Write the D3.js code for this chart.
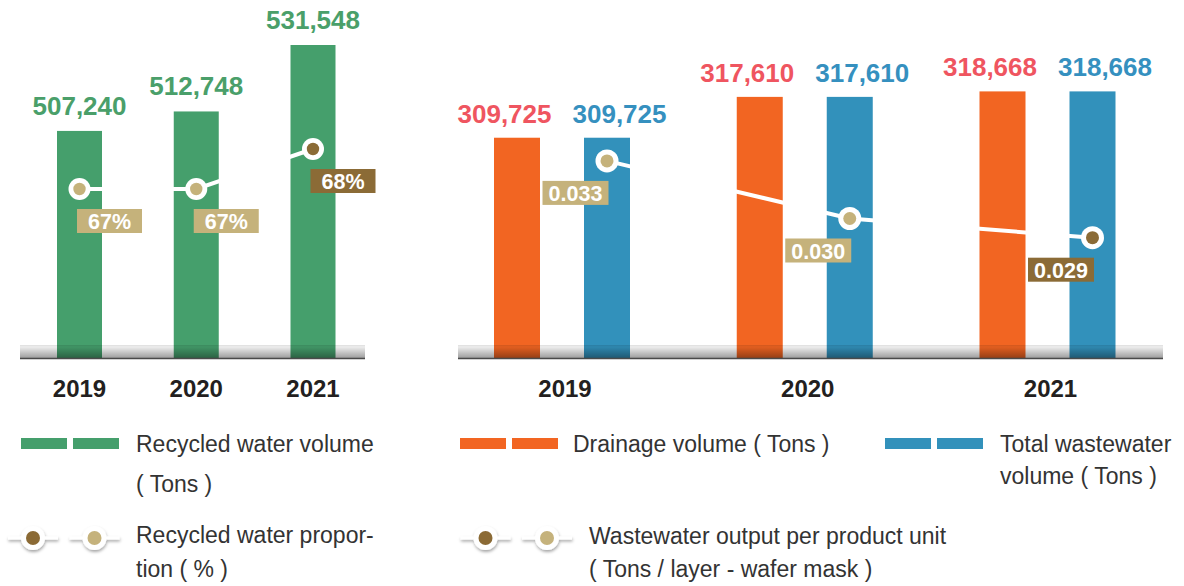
<!DOCTYPE html>
<html>
<head>
<meta charset="utf-8">
<script src="https://cdn.jsdelivr.net/npm/d3@7"></script>
<style>
  html, body { margin: 0; padding: 0; background: #ffffff; }
  svg { display: block; }
  text { font-family: "Liberation Sans", Arial, Helvetica, sans-serif; }
</style>
</head>
<body>
<svg id="chart" width="1184" height="586"></svg>
<script>
// ---- Data ----
const years = ["2019", "2020", "2021"];
const recycledVolume = [507240, 512748, 531548];        // tons
const recycledProportion = [67, 67, 68];                // %
const drainageVolume = [309725, 317610, 318668];        // tons
const totalWastewater = [309725, 317610, 318668];       // tons
const wastewaterPerUnit = [0.033, 0.030, 0.029];        // tons / layer - wafer mask

// ---- Styles ----
const GREEN = "#459f6c", GREEN_TEXT = "#4a9f6a";
const ORANGE = "#f26522", ORANGE_TEXT = "#ef5560";
const BLUE = "#3291bb", BLUE_TEXT = "#3590bf";
const TAN = "#c5b27b", BROWN = "#8b6b36";
const TEXT = "#231f20", LEGEND_TEXT = "#333333";

const svg = d3.select("#chart");
const baseY = 358;

const defs = svg.append("defs");
const grad = defs.append("linearGradient").attr("id", "baseShade")
  .attr("x1", 0).attr("y1", 0).attr("x2", 0).attr("y2", 1);
grad.append("stop").attr("offset", "0%").attr("stop-color", "#000").attr("stop-opacity", 0.13);
grad.append("stop").attr("offset", "15%").attr("stop-color", "#000").attr("stop-opacity", 0.07);
grad.append("stop").attr("offset", "100%").attr("stop-color", "#000").attr("stop-opacity", 0.38);

const shadow = defs.append("filter").attr("id", "iconShadow")
  .attr("x", "-50%").attr("y", "-50%").attr("width", "200%").attr("height", "200%");
shadow.append("feDropShadow").attr("dx", 0.5).attr("dy", 2).attr("stdDeviation", 1.4)
  .attr("flood-color", "#000").attr("flood-opacity", 0.35);

const pointColor = i => (i === years.length - 1 ? BROWN : TAN);

function baseBand(x0, x1) {
  svg.append("rect").attr("x", x0).attr("y", baseY - 13)
    .attr("width", x1 - x0).attr("height", 13).attr("fill", "url(#baseShade)");
  svg.append("line").attr("x1", x0).attr("x2", x1)
    .attr("y1", baseY + 0.5).attr("y2", baseY + 0.5)
    .attr("stroke", "#4a4a4a").attr("stroke-width", 1.6);
}

function marker(g, cx, cy, color, r, rIn) {
  g.append("circle").attr("cx", cx).attr("cy", cy).attr("r", r).attr("fill", "#fff");
  g.append("circle").attr("cx", cx).attr("cy", cy).attr("r", rIn).attr("fill", color);
}

function valueBox(g, x, y, w, color, label) {
  g.append("rect").attr("x", x).attr("y", y).attr("width", w).attr("height", 24).attr("fill", color);
  g.append("text").attr("x", x + w / 2).attr("y", y + 20)
    .attr("text-anchor", "middle").attr("fill", "#fff")
    .attr("font-size", 21.5).attr("font-weight", 700).text(label);
}

// ================= Left chart: recycled water =================
const xL = d3.scalePoint().domain(years).range([79.5, 313]);
const yL = d3.scaleLinear().domain([443000, 531548]).range([baseY, 45]);
const yProp = d3.scaleLinear().domain([67, 68]).range([189, 149]);
const barW = 45;

const left = svg.append("g");
left.selectAll("rect.bar").data(years).join("rect")
  .attr("class", "bar")
  .attr("x", d => xL(d) - barW / 2)
  .attr("y", (d, i) => yL(recycledVolume[i]))
  .attr("width", barW)
  .attr("height", (d, i) => baseY - yL(recycledVolume[i]))
  .attr("fill", GREEN);

left.selectAll("text.val").data(years).join("text")
  .attr("class", "val")
  .attr("x", d => xL(d))
  .attr("y", (d, i) => yL(recycledVolume[i]) - 16)
  .attr("text-anchor", "middle").attr("fill", GREEN_TEXT)
  .attr("font-size", 26).attr("font-weight", 700)
  .text((d, i) => d3.format(",")(recycledVolume[i]));

baseBand(20, 365);

left.append("path")
  .datum(years)
  .attr("d", d3.line().x(d => xL(d)).y((d, i) => yProp(recycledProportion[i])))
  .attr("fill", "none").attr("stroke", "#fff").attr("stroke-width", 4);

years.forEach((d, i) => {
  const cx = xL(d), cy = yProp(recycledProportion[i]);
  marker(left, cx, cy, pointColor(i), 11, 6.2);
  valueBox(left, cx - 2.5, cy + 20, 65, pointColor(i), recycledProportion[i] + "%");
});

left.selectAll("text.year").data(years).join("text")
  .attr("class", "year")
  .attr("x", d => xL(d)).attr("y", 397)
  .attr("text-anchor", "middle").attr("fill", TEXT)
  .attr("font-size", 24).attr("font-weight", 700).text(d => d);

// ================= Right chart: wastewater =================
const xR = d3.scalePoint().domain(years).range([562, 1047.5]);
const series = ["drainage", "total"];
const xSub = d3.scalePoint().domain(series).range([-45, 45]);
const xLab = d3.scalePoint().domain(series).range([-57.5, 57.5]);
const yR = d3.scaleLinear().domain([267200, 318668]).range([baseY, 91.4]);
const yUnit = d3.scaleLinear().domain([0.029, 0.033]).range([237.7, 160.9]);
const seriesValues = { drainage: drainageVolume, total: totalWastewater };
const seriesFill = { drainage: ORANGE, total: BLUE };
const seriesText = { drainage: ORANGE_TEXT, total: BLUE_TEXT };
const barW2 = 46;

const right = svg.append("g");
const cells = years.flatMap((y, i) => series.map(s => ({ year: y, s, v: seriesValues[s][i] })));

right.selectAll("rect.bar").data(cells).join("rect")
  .attr("class", "bar")
  .attr("x", d => xR(d.year) + xSub(d.s) - barW2 / 2)
  .attr("y", d => yR(d.v))
  .attr("width", barW2)
  .attr("height", d => baseY - yR(d.v))
  .attr("fill", d => seriesFill[d.s]);

right.selectAll("text.val").data(cells).join("text")
  .attr("class", "val")
  .attr("x", d => xR(d.year) + xLab(d.s))
  .attr("y", d => yR(d.v) - 15)
  .attr("text-anchor", "middle").attr("fill", d => seriesText[d.s])
  .attr("font-size", 26).attr("font-weight", 700)
  .text(d => d3.format(",")(d.v));

baseBand(458, 1163);

const unitX = d => xR(d) + xSub("total");
right.append("path")
  .datum(years)
  .attr("d", d3.line().x(d => unitX(d)).y((d, i) => yUnit(wastewaterPerUnit[i])))
  .attr("fill", "none").attr("stroke", "#fff").attr("stroke-width", 4);

years.forEach((d, i) => {
  const cx = unitX(d), cy = yUnit(wastewaterPerUnit[i]);
  marker(right, cx, cy, pointColor(i), 11.5, 6.5);
  valueBox(right, cx + 1.5 - 66, cy + 20, 66, pointColor(i), d3.format(".3f")(wastewaterPerUnit[i]));
});

right.selectAll("text.year").data(years).join("text")
  .attr("class", "year")
  .attr("x", d => xR(d) + 3).attr("y", 397)
  .attr("text-anchor", "middle").attr("fill", TEXT)
  .attr("font-size", 24).attr("font-weight", 700).text(d => d);

// ================= Legends =================
const legend = svg.append("g");

function legendBars(x, color) {
  [0, 52].forEach(dx => legend.append("rect")
    .attr("x", x + dx).attr("y", 438).attr("width", 46).attr("height", 11).attr("fill", color));
}
function legendDots(x) {
  [[x, BROWN], [x + 61.5, TAN]].forEach(([cx, c]) => {
    const g = legend.append("g").attr("filter", "url(#iconShadow)");
    g.append("line").attr("x1", cx - 25).attr("x2", cx + 25).attr("y1", 538).attr("y2", 538)
      .attr("stroke", "#fff").attr("stroke-width", 3);
    g.append("circle").attr("cx", cx).attr("cy", 538).attr("r", 12).attr("fill", "#fff");
    g.append("circle").attr("cx", cx).attr("cy", 538).attr("r", 7).attr("fill", c);
  });
}
function legendText(x, y, s) {
  legend.append("text").attr("x", x).attr("y", y).attr("fill", LEGEND_TEXT)
    .attr("font-size", 23).text(s);
}

legendBars(21, GREEN);
legendText(136, 452, "Recycled water volume");
legendText(136, 492, "( Tons )");
legendDots(33);
legendText(136, 543, "Recycled water propor-");
legendText(136, 577, "tion ( % )");

legendBars(460, ORANGE);
legendText(573, 452, "Drainage volume ( Tons )");
legendBars(885, BLUE);
legendText(1000, 452, "Total wastewater");
legendText(1000, 484, "volume ( Tons )");
legendDots(485.5);
legendText(589, 544, "Wastewater output per product unit");
legendText(589, 577, "( Tons / layer - wafer mask )");
</script>
</body>
</html>
